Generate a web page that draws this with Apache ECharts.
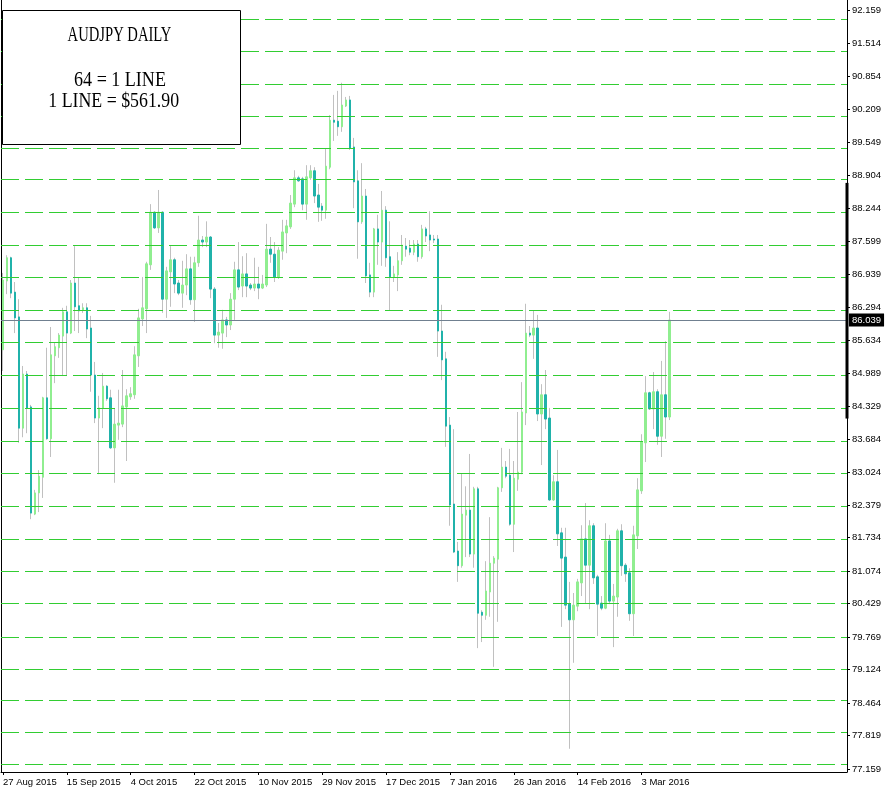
<!DOCTYPE html>
<html><head><meta charset="utf-8">
<script src="https://cdn.jsdelivr.net/npm/echarts@6/dist/echarts.min.js"></script>
<style>html,body{margin:0;padding:0;background:#fff}#c{width:887px;height:789px}</style>
</head><body><div id="c"></div>
<script>
// ---- data ----
const tickLabels = ['27 Aug 2015','15 Sep 2015','4 Oct 2015','22 Oct 2015','10 Nov 2015','29 Nov 2015','17 Dec 2015','7 Jan 2016','26 Jan 2016','14 Feb 2016','3 Mar 2016'];
const priceTicks = [92.159,91.514,90.854,90.209,89.549,88.904,88.244,87.599,86.939,86.294,85.634,84.989,84.329,83.684,83.024,82.379,81.734,81.074,80.429,79.769,79.124,78.464,77.819,77.159];
const levelLines = [91.985,91.352,90.706,90.073,89.440,88.821,88.174,87.522,86.883,86.237,85.598,84.937,84.293,83.640,83.007,82.361,81.714,81.069,80.429,79.764,79.132,78.511,77.886,77.253];
const lastPrice = 86.039;
const axisMarkRange = [88.75, 84.09];
const titleLines = ['AUDJPY DAILY', '64 = 1 LINE', '1 LINE = $561.90'];

const openP = [85.45,86.81,87.27,86.59,86.10,83.90,84.97,84.32,82.20,82.62,82.93,84.50,83.69,85.33,85.49,85.72,86.20,85.78,86.77,86.32,
86.24,86.28,85.88,84.95,84.10,84.30,84.73,84.50,83.51,83.96,83.98,84.32,84.52,84.56,85.33,86.06,86.26,87.13,88.17,87.86,
88.17,86.45,86.99,87.23,86.77,86.57,86.73,87.05,86.44,87.17,87.62,87.58,87.68,86.65,85.74,85.78,86.04,85.94,86.45,87.03,
86.71,86.95,86.73,86.67,86.75,86.67,86.73,87.44,87.34,86.89,87.40,87.76,87.88,88.33,88.85,88.83,88.33,88.85,88.99,88.51,
88.29,88.21,89.06,89.99,89.97,89.86,90.27,90.39,89.46,88.79,87.98,88.49,86.93,86.59,87.84,87.58,88.21,87.29,86.89,86.93,
87.21,87.50,87.46,87.38,87.54,87.29,87.84,87.72,87.64,87.64,85.82,85.27,83.96,82.40,81.47,81.18,82.18,82.28,81.41,82.70,
80.26,80.20,80.66,81.23,81.31,82.72,83.13,82.97,82.00,82.89,83.03,84.20,85.78,85.74,85.88,84.18,84.56,84.10,82.48,82.84,
81.83,81.35,80.42,80.11,80.38,80.84,81.71,81.19,81.97,80.96,80.44,80.34,81.67,80.48,80.56,81.87,81.19,81.04,80.23,81.77,
82.66,83.61,84.60,84.28,84.62,83.74,84.56,84.12];
const highP = [86.97,87.32,87.29,86.79,86.45,85.13,85.03,84.36,82.68,83.07,84.52,85.49,85.90,85.60,85.78,86.28,86.32,86.83,87.50,86.87,
86.37,86.37,86.12,85.21,84.54,84.99,84.75,84.66,84.30,84.66,85.05,84.67,84.71,85.52,86.26,86.89,87.19,88.33,88.19,88.61,
88.19,87.09,87.50,87.27,86.83,87.21,87.34,87.29,87.29,88.10,87.70,87.99,87.70,86.69,85.98,86.24,86.10,86.57,87.19,87.58,
87.30,87.36,86.77,87.27,87.09,86.93,87.94,87.68,87.58,87.48,88.02,88.02,88.51,89.00,88.89,88.87,89.10,89.10,89.06,88.73,
88.35,89.42,90.09,90.49,90.57,90.73,90.45,90.47,89.64,89.00,89.14,88.63,87.17,87.86,88.12,88.59,88.29,87.99,87.11,87.38,
87.72,87.66,87.62,87.62,87.62,87.92,87.88,88.19,87.72,87.72,86.34,85.41,84.12,83.88,81.65,83.01,82.75,83.39,82.74,82.74,
80.30,81.27,82.14,81.37,82.74,83.51,83.25,83.49,83.25,84.22,84.81,86.36,85.92,86.22,86.14,84.77,85.05,84.30,82.97,83.47,
81.93,81.93,80.86,80.64,80.92,81.98,82.42,82.08,82.02,81.00,80.58,82.02,81.79,80.82,81.91,82.00,81.23,81.13,81.97,82.91,
83.78,84.93,84.62,85.01,84.67,85.23,85.62,86.20];
const lowP = [85.03,86.55,86.47,85.78,83.61,83.72,83.80,82.10,82.18,82.24,82.52,83.67,83.33,84.79,85.29,84.93,84.93,85.76,85.82,85.78,
86.18,85.68,84.62,84.00,82.99,83.90,84.44,83.49,82.82,83.67,83.92,83.25,84.46,84.48,85.11,85.92,85.78,87.03,87.84,87.76,
86.18,86.08,86.30,86.57,86.53,86.28,86.53,86.34,86.00,87.09,87.48,87.48,86.47,85.58,85.49,85.47,85.70,85.84,86.04,86.63,
86.49,86.49,86.63,86.61,86.45,86.65,86.69,87.17,86.79,86.85,87.23,87.36,87.84,88.27,88.77,88.21,88.02,88.81,88.35,87.98,
88.00,88.04,89.02,89.58,89.68,89.76,90.25,89.40,88.25,87.25,87.94,86.77,86.49,86.49,87.13,87.11,87.09,86.22,86.79,86.61,
87.13,87.29,87.32,87.32,87.19,87.25,87.58,87.40,87.56,85.31,84.85,83.53,81.97,81.43,80.86,81.14,81.35,81.35,81.14,79.55,
79.67,80.11,80.17,79.18,80.07,82.64,82.91,81.97,81.45,82.66,82.99,83.96,85.70,85.27,84.04,83.17,83.88,82.46,82.46,81.57,
79.97,80.32,77.56,79.26,80.28,80.58,80.44,80.32,80.82,79.79,80.30,80.32,80.42,79.57,80.17,80.98,80.86,80.09,79.79,81.51,
82.60,83.23,84.26,83.88,83.57,83.33,83.69,84.06];
const closeP = [86.83,87.27,86.57,86.08,83.90,84.97,84.30,82.22,82.62,82.95,84.50,83.69,85.35,85.51,85.74,86.20,85.78,86.77,86.30,86.22,
86.28,85.86,84.95,84.10,84.30,84.73,84.48,83.51,83.98,84.00,84.34,84.54,84.58,85.35,86.08,86.28,87.15,88.17,87.86,88.17,
86.45,87.01,87.23,86.75,86.57,86.73,87.05,86.44,87.17,87.62,87.58,87.68,86.65,85.74,85.80,86.04,85.94,86.45,87.03,86.69,
86.95,86.71,86.67,86.75,86.67,86.75,87.44,87.34,86.89,87.42,87.78,87.90,88.35,88.85,88.79,88.33,88.87,88.99,88.49,88.27,
88.21,89.08,89.99,89.95,89.86,90.29,90.39,89.44,88.77,87.98,88.49,86.91,86.59,87.84,87.58,88.21,87.27,86.89,86.95,87.21,
87.52,87.44,87.38,87.54,87.29,87.84,87.70,87.62,87.62,85.82,85.25,83.94,82.38,81.45,81.18,82.20,82.28,81.41,82.70,80.24,
80.20,80.68,81.23,81.33,82.72,83.13,82.95,82.00,82.91,83.03,84.22,85.78,85.74,85.88,84.18,84.56,84.08,82.48,82.84,81.81,
81.33,80.40,80.11,80.40,80.86,81.71,81.19,81.97,80.94,80.42,80.34,81.67,80.48,80.58,81.87,81.18,81.02,80.23,81.79,82.68,
83.63,84.60,84.28,84.62,83.74,84.56,84.12,86.039];

// ---- chart ----
const SLOTS = 212, LABEL_EVERY = 16;
const slots = Array.from({length: SLOTS}, (_, i) => String(i));
const lastLabelIdx = (tickLabels.length - 1) * LABEL_EVERY;
const showTick = (idx) => idx % LABEL_EVERY === 0 && idx <= lastLabelIdx;
const Y_MIN = 77.1006, Y_MAX = 92.3666;
const GRID = {left: 1, right: 40, top: 0, bottom: 17};
const FONT = 'Liberation Sans';

const wickData = openP.map((o, i) => [o, closeP[i], lowP[i], highP[i]]);
const bodyData = openP.map((o, i) => [o, closeP[i], Math.min(o, closeP[i]), Math.max(o, closeP[i])]);

const chart = echarts.init(document.getElementById('c'), null, {renderer: 'canvas'});
chart.setOption({
  animation: false,
  backgroundColor: '#fff',
  grid: GRID,
  xAxis: {
    type: 'category', data: slots, boundaryGap: true,
    axisLine: {show: true, onZero: false, lineStyle: {color: '#000', width: 1}},
    axisTick: {show: true, alignWithLabel: true, length: 3, interval: showTick, lineStyle: {color: '#000'}},
    axisLabel: {interval: showTick, formatter: (v, idx) => tickLabels[idx / LABEL_EVERY] || '',
      align: 'left', margin: 5, color: '#000', fontFamily: FONT, fontSize: 9.5},
    splitLine: {show: false}
  },
  yAxis: [{
    type: 'value', position: 'right', min: Y_MIN, max: Y_MAX,
    axisLine: {show: true, lineStyle: {color: '#000', width: 1}},
    axisTick: {show: true, length: 3, customValues: priceTicks, lineStyle: {color: '#000'}},
    axisLabel: {customValues: priceTicks, formatter: v => v.toFixed(3), margin: 5, color: '#000', fontFamily: FONT, fontSize: 9.5},
    splitLine: {show: false}
  }, {
    type: 'value', position: 'left', min: Y_MIN, max: Y_MAX,
    axisLine: {show: true, lineStyle: {color: '#000', width: 1}},
    axisTick: {show: false}, axisLabel: {show: false}, splitLine: {show: false}
  }],
  series: [{
    type: 'line', data: [], z: 1, silent: true,
    markLine: {
      silent: true, symbol: 'none', animation: false,
      label: {show: false},
      lineStyle: {color: '#32CD32', type: [18, 6], width: 1},
      data: levelLines.map(v => ({yAxis: v}))
    }
  }, {
    type: 'line', data: [], z: 1, silent: true,
    markLine: {
      silent: true, symbol: 'none', animation: false,
      lineStyle: {color: '#708090', type: 'solid', width: 1},
      label: {show: true, position: 'end', distance: 2, formatter: () => lastPrice.toFixed(3),
        backgroundColor: '#000', color: '#fff', padding: [2, 3, 1, 3], fontFamily: FONT, fontSize: 9.5},
      data: [{yAxis: lastPrice}]
    }
  }, {
    type: 'candlestick', data: wickData, z: 2, barWidth: 1, silent: true,
    itemStyle: {color: '#C0C0C0', color0: '#C0C0C0', borderColor: '#C0C0C0', borderColor0: '#C0C0C0', borderWidth: 1}
  }, {
    type: 'candlestick', data: bodyData, z: 3, barWidth: 2, silent: true,
    itemStyle: {color: '#90EE90', color0: '#20B2AA', borderColor: '#90EE90', borderColor0: '#20B2AA', borderWidth: 1}
  }]
});

// decorations: axis mark + info box
const yA = chart.convertToPixel({yAxisIndex: 0}, axisMarkRange[0]);
const yB = chart.convertToPixel({yAxisIndex: 0}, axisMarkRange[1]);
const axisX = 887 - GRID.right;
chart.setOption({
  graphic: [
    {type: 'rect', z: 100, shape: {x: axisX - 1.5, y: yA, width: 3, height: yB - yA}, style: {fill: '#000'}},
    {type: 'rect', z: 100, shape: {x: 2.5, y: 10.5, width: 238, height: 134}, style: {fill: '#fff', stroke: '#000', lineWidth: 1}},
    {type: 'text', z: 101, x: 119.5, y: 35.5, scaleX: 0.665, style: {text: titleLines[0], font: '22px "Liberation Serif"', fill: '#000', align: 'center', verticalAlign: 'middle'}},
    {type: 'text', z: 101, x: 120, y: 80, scaleX: 0.82, style: {text: titleLines[1], font: '22px "Liberation Serif"', fill: '#000', align: 'center', verticalAlign: 'middle'}},
    {type: 'text', z: 101, x: 113.7, y: 101.7, scaleX: 0.81, style: {text: titleLines[2], font: '22px "Liberation Serif"', fill: '#000', align: 'center', verticalAlign: 'middle'}}
  ]
});
</script>
</body></html>
